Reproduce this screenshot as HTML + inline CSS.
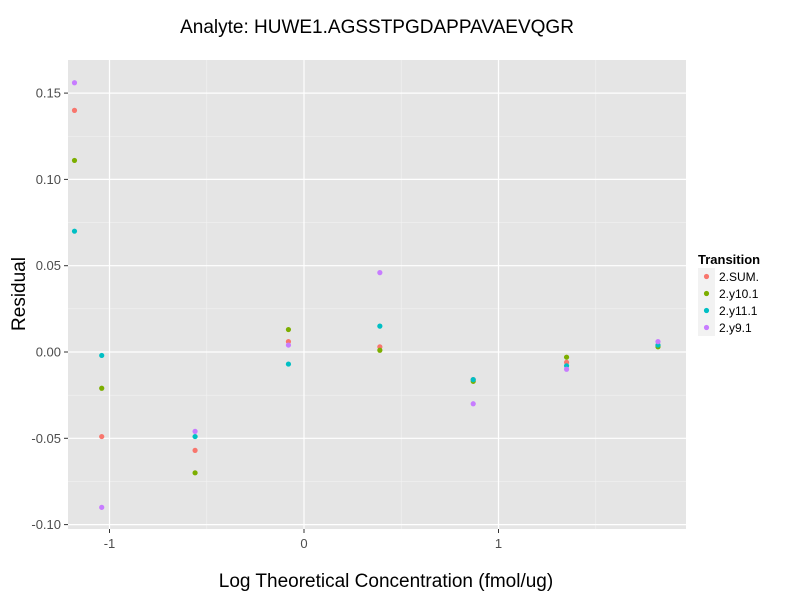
<!DOCTYPE html>
<html><head><meta charset="utf-8"><style>
body{margin:0;background:#fff;font-family:"Liberation Sans",sans-serif}
</style></head><body>
<svg id="chart" width="800" height="600" xmlns="http://www.w3.org/2000/svg" font-family="Liberation Sans, sans-serif">
<text x="377" y="33" text-anchor="middle" font-size="19">Analyte: HUWE1.AGSSTPGDAPPAVAEVQGR</text>
<rect x="68" y="60" width="618" height="469" fill="#e5e5e5"/>
<g id="grid"></g><g id="points"></g><g id="axes"></g>
<text x="386" y="587" text-anchor="middle" font-size="19">Log Theoretical Concentration (fmol/ug)</text>
<text transform="translate(25,294) rotate(-90)" text-anchor="middle" font-size="19">Residual</text>
<g id="legend"><text x="698" y="264" font-size="13" font-weight="bold">Transition</text></g>
</svg>
<script>
const xVals=[-1.18,-1.04,-0.56,-0.08,0.39,0.87,1.35,1.82];
const seriesNames=["2.SUM.","2.y10.1","2.y11.1","2.y9.1"];
const sumVals=[0.140,-0.049,-0.057,0.006,0.003,-0.016,-0.006,0.004];
const y10Vals=[0.111,-0.021,-0.070,0.013,0.001,-0.017,-0.003,0.003];
const y11Vals=[0.070,-0.002,-0.049,-0.007,0.015,-0.016,-0.008,0.004];
const y9Vals=[0.156,-0.090,-0.046,0.004,0.046,-0.030,-0.010,0.006];
const colors=["#F8766D","#7CAE00","#00BFC4","#C77CFF"];
const xTicks=[-1,0,1];
const yTicks=[-0.10,-0.05,0.00,0.05,0.10,0.15];
const yTickLabels=["-0.10","-0.05","0.00","0.05","0.10","0.15"];
const NS="http://www.w3.org/2000/svg";
const X=v=>304+v*194.5, Y=v=>352-v*1726;
function mk(t,a,p){const e=document.createElementNS(NS,t);for(const k in a)e.setAttribute(k,a[k]);p.appendChild(e);return e;}
const grid=document.getElementById('grid'),axes=document.getElementById('axes');
for(let i=0;i<yTicks.length-1;i++){const m=(yTicks[i]+yTicks[i+1])/2;
const l=mk('line',{x1:68,x2:686,y1:Y(m),y2:Y(m),stroke:'#f2f2f2','stroke-width':0.6},grid);
}
[-1.5,-0.5,0.5,1.5].forEach(m=>{if(X(m)>68&&X(m)<686){const l=mk('line',{x1:X(m),x2:X(m),y1:60,y2:529,stroke:'#f2f2f2','stroke-width':0.6},grid);
}});
yTicks.forEach((t,i)=>{const l=mk('line',{x1:68,x2:686,y1:Y(t),y2:Y(t),stroke:'#fff','stroke-width':1.2},grid);

const tk=mk('line',{x1:64,x2:68,y1:Y(t),y2:Y(t),stroke:'#333'},axes);

const tx=mk('text',{x:61,y:Y(t)+4.5,'text-anchor':'end','font-size':13,fill:'#4d4d4d'},axes);tx.textContent=yTickLabels[i];
});
xTicks.forEach(t=>{const l=mk('line',{x1:X(t),x2:X(t),y1:60,y2:529,stroke:'#fff','stroke-width':1.2},grid);

const tk=mk('line',{x1:X(t),x2:X(t),y1:529,y2:533,stroke:'#333'},axes);

const tx=mk('text',{x:X(t),y:548,'text-anchor':'middle','font-size':13,fill:'#4d4d4d'},axes);tx.textContent=t;
});
const pts=document.getElementById('points');
[sumVals,y10Vals,y11Vals,y9Vals].forEach((s,si)=>s.forEach((v,i)=>{
const c=mk('circle',{cx:X(xVals[i]),cy:Y(v),r:2.6,fill:colors[si]},pts);

}));
const lg=document.getElementById('legend');
seriesNames.forEach((n,i)=>{const y=276+i*17;
const r=mk('rect',{x:698,y:y-8,width:17,height:17,fill:'#f2f2f2'},lg);

const c=mk('circle',{cx:706.5,cy:y+0.5,r:2.6,fill:colors[i]},lg);

const t=mk('text',{x:719,y:y+5,'font-size':12},lg);t.textContent=n;
});
</script>
</body></html>
